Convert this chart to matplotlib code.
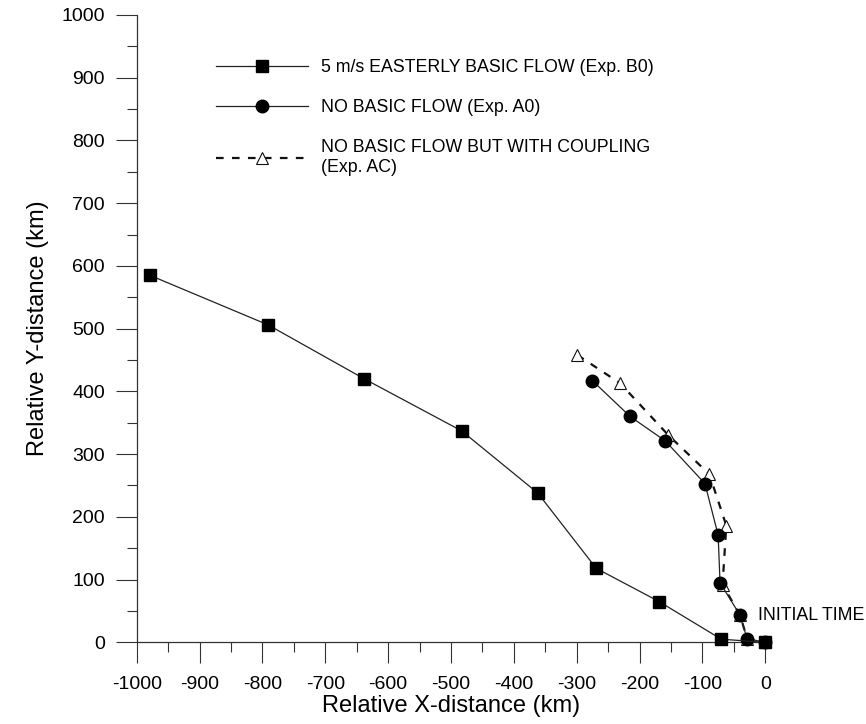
import matplotlib
matplotlib.use("Agg")
import matplotlib.pyplot as plt
from matplotlib.ticker import MultipleLocator

plt.rcParams['font.family'] = ['Liberation Sans', 'DejaVu Sans']
plt.rcParams['axes.unicode_minus'] = False
plt.rcParams['lines.scale_dashes'] = False

# Data (km)
b0_x = [-979, -791, -638, -483, -362, -269, -169, -70, 0]
b0_y = [585, 506, 420, 337, 238, 118, 65, 5, 0]

a0_x = [-275, -215, -159, -96, -75, -72, -40, -29, 0]
a0_y = [417, 360, 321, 253, 171, 95, 43, 6, 0]

ac_x = [-299, -231, -154, -89, -62, -68, -40, -29, 0]
ac_y = [458, 413, 330, 268, 186, 92, 43, 6, 0]

labels = ["5 m/s EASTERLY BASIC FLOW (Exp. B0)",
          "NO BASIC FLOW (Exp. A0)",
          "NO BASIC FLOW BUT WITH COUPLING\n(Exp. AC)"]

fig = plt.figure(figsize=(8.66, 7.24), dpi=100)
ax = fig.add_axes([0.1579, 0.1128, 0.7258, 0.8665])

l_ac, = ax.plot(ac_x, ac_y, linestyle=(0, (5.5, 6)), color='#111111', lw=1.6,
                marker='^', markersize=8, markerfacecolor='white',
                markeredgecolor='#111111', markeredgewidth=0.8, zorder=2, clip_on=False)
l_a0, = ax.plot(a0_x, a0_y, linestyle='-', color='#222222', lw=0.9,
                marker='o', markersize=9, markerfacecolor='black',
                markeredgecolor='black', zorder=3, clip_on=False)
l_b0, = ax.plot(b0_x, b0_y, linestyle='-', color='#222222', lw=0.9,
                marker='s', markersize=8.5, markerfacecolor='black',
                markeredgecolor='black', zorder=4, clip_on=False)

ax.set_xlim(-1000, 0)
ax.set_ylim(0, 1000)
ax.xaxis.set_major_locator(MultipleLocator(100))
ax.xaxis.set_minor_locator(MultipleLocator(50))
ax.yaxis.set_major_locator(MultipleLocator(100))
ax.yaxis.set_minor_locator(MultipleLocator(50))

for s in ['top', 'right']:
    ax.spines[s].set_visible(False)
for s in ['left', 'bottom']:
    ax.spines[s].set_color('#333333')
    ax.spines[s].set_linewidth(0.9)

ax.tick_params(which='major', direction='out', length=15, width=0.8,
               color='#333333', labelsize=14)
ax.tick_params(axis='y', which='major', pad=8)
ax.tick_params(axis='x', which='major', pad=9)
ax.tick_params(which='minor', direction='out', length=7.5, width=0.8,
               color='#333333')

ax.set_xlabel('Relative X-distance (km)', fontsize=17, labelpad=2)
ax.set_ylabel('Relative Y-distance (km)', fontsize=17, labelpad=8.5)

ax.text(-11, 42, 'INITIAL TIME', fontsize=12.8, ha='left', va='center', clip_on=False)

leg = ax.legend([l_b0, l_a0, l_ac], labels, loc='upper left',
                bbox_to_anchor=(215.7 / 866, 1 - 59 / 724),
                bbox_transform=fig.transFigure, frameon=False,
                fontsize=12.8, handlelength=5.2, handletextpad=0.7,
                labelspacing=1.3, borderpad=0, borderaxespad=0, numpoints=1)

fig.savefig('out.png', dpi=100)
